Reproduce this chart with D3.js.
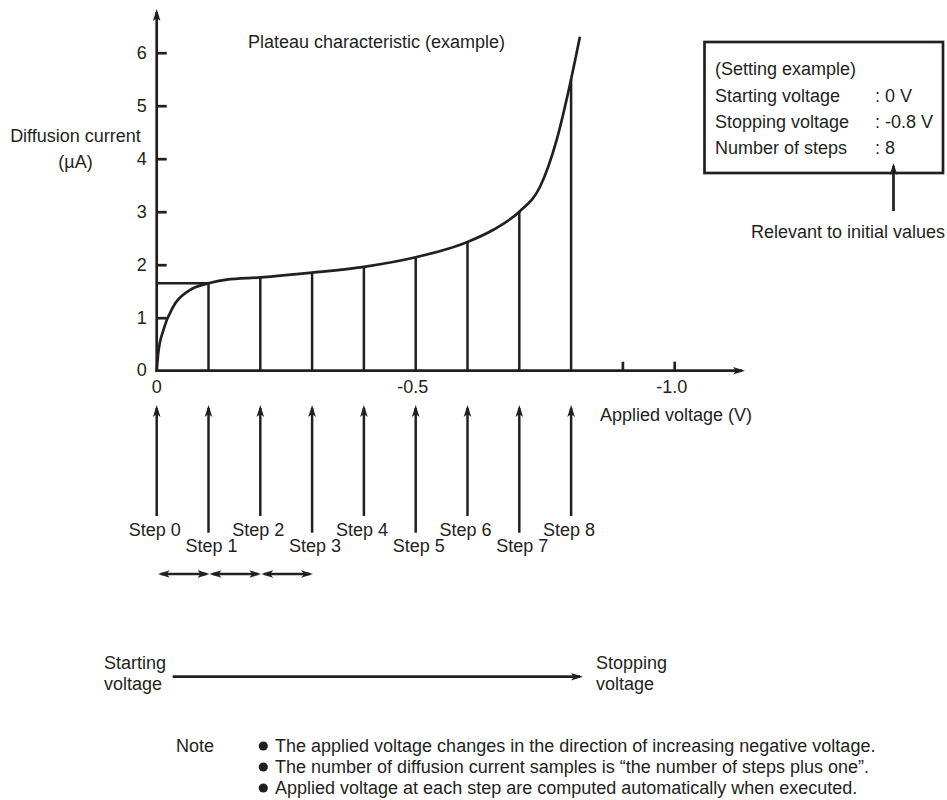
<!DOCTYPE html>
<html lang="en">
<head>
<meta charset="utf-8">
<title>Plateau characteristic</title>
<script src="https://d3js.org/d3.v7.min.js"></script>
<style>
  body { margin: 0; background: #fff; }
  svg { display: block; }
  text { font-family: "Liberation Sans", Arial, Helvetica, sans-serif; font-size: 18px; fill: #231f20; }
  .ln { stroke: #231f20; stroke-width: 2.7px; fill: none; }
</style>
</head>
<body>
<svg id="vis" width="947" height="800"></svg>
<script>
// ---- data ----
var yTicks = [0, 1, 2, 3, 4, 5, 6];
var xLabelValues = [0, -0.5, -1.0];
var xLabelText = ["0", "-0.5", "-1.0"];
var xTickMarks = [-0.9, -1.0];

// plateau curve (voltage V, current uA)
var curveV = [0, -0.003, -0.013, -0.032, -0.064, -0.1, -0.135, -0.2, -0.3, -0.4, -0.5, -0.6, -0.65, -0.7, -0.74, -0.772, -0.8, -0.817];
var curveI = [0, 0.33, 0.77, 1.21, 1.52, 1.65, 1.72, 1.76, 1.85, 1.96, 2.14, 2.43, 2.66, 3.0, 3.47, 4.35, 5.5, 6.3];

// sampled steps
var stepV = [0, -0.1, -0.2, -0.3, -0.4, -0.5, -0.6, -0.7, -0.8];
var stepI = [0, 1.65, 1.76, 1.85, 1.96, 2.14, 2.43, 3.0, 5.5];
var stepLabels = ["Step 0", "Step 1", "Step 2", "Step 3", "Step 4", "Step 5", "Step 6", "Step 7", "Step 8"];

var settingNames = ["Starting voltage", "Stopping voltage", "Number of steps"];
var settingValues = [": 0 V", ": -0.8 V", ": 8"];

var notes = [
  "The applied voltage changes in the direction of increasing negative voltage.",
  "The number of diffusion current samples is \u201cthe number of steps plus one\u201d.",
  "Applied voltage at each step are computed automatically when executed."
];

var svg = d3.select("#vis");

var x = d3.scaleLinear().domain([0, -1.0]).range([156.7, 674.7]);
var y = d3.scaleLinear().domain([0, 6]).range([370.7, 52.7]);

// arrow heads
var defs = svg.append("defs");
defs.append("marker")
    .attr("id", "head")
    .attr("markerUnits", "userSpaceOnUse")
    .attr("viewBox", "0 -5 12 10")
    .attr("markerWidth", 12).attr("markerHeight", 10)
    .attr("refX", 9).attr("refY", 0)
    .attr("orient", "auto-start-reverse")
  .append("path")
    .attr("d", "M0,-3.8L12,0L0,3.8L3,0Z")
    .attr("fill", "#231f20");

// y axis
var yAxis = d3.axisLeft(y)
    .tickValues(yTicks.slice(1))
    .tickFormat(d3.format("d"))
    .tickSize(-10).tickPadding(10).tickSizeOuter(0);
var gy = svg.append("g").attr("transform", "translate(" + x(0) + ",0)").call(yAxis);
gy.select(".domain").remove();
gy.selectAll(".tick line").attr("class", "ln");
gy.selectAll(".tick text").attr("font-size", null).attr("font-family", null).attr("fill", null);

svg.append("text").attr("x", x(0) - 10).attr("y", y(0)).attr("dy", "0.32em")
    .attr("text-anchor", "end").text("0");

svg.append("line").attr("class", "ln")
    .attr("x1", x(0)).attr("y1", y(0) + 1.3)
    .attr("x2", x(0)).attr("y2", 12)
    .attr("marker-end", "url(#head)");

// x axis
svg.append("line").attr("class", "ln")
    .attr("x1", x(0) - 1.3).attr("y1", y(0))
    .attr("x2", 742).attr("y2", y(0))
    .attr("marker-end", "url(#head)");

svg.selectAll(".xtick").data(xTickMarks).enter().append("line")
    .attr("class", "ln xtick")
    .attr("x1", function(d) { return x(d); }).attr("x2", function(d) { return x(d); })
    .attr("y1", y(0)).attr("y2", y(0) - 9);

svg.selectAll(".xlab").data(xLabelValues).enter().append("text")
    .attr("class", "xlab")
    .attr("x", function(d, i) { return x(d) - (i ? 3 : 0); })
    .attr("y", 393)
    .attr("text-anchor", "middle")
    .text(function(d, i) { return xLabelText[i]; });

svg.append("text").attr("x", 600).attr("y", 421).text("Applied voltage (V)");

svg.append("text").attr("x", 75.5).attr("y", 142).attr("text-anchor", "middle").text("Diffusion current");
svg.append("text").attr("x", 75.5).attr("y", 168).attr("text-anchor", "middle").text("(\u00b5A)");

svg.append("text").attr("x", 248).attr("y", 48).text("Plateau characteristic (example)");

// horizontal guide to step 1
svg.append("line").attr("class", "ln")
    .attr("x1", x(0)).attr("x2", x(stepV[1]))
    .attr("y1", y(stepI[1])).attr("y2", y(stepI[1]));

// step verticals
svg.selectAll(".stepline").data(stepV.slice(1)).enter().append("line")
    .attr("class", "ln stepline")
    .style("stroke-width", "2.5px")
    .attr("x1", function(d) { return x(d); }).attr("x2", function(d) { return x(d); })
    .attr("y1", y(0)).attr("y2", function(d, i) { return y(stepI[i + 1]); });

// curve
var pts = curveV.map(function(v, i) { return [v, curveI[i]]; });
var line = d3.line()
    .x(function(d) { return x(d[0]); })
    .y(function(d) { return y(d[1]); })
    .curve(d3.curveMonotoneX);
svg.append("path").attr("class", "ln").attr("d", line(pts));

// setting box
svg.append("rect").attr("class", "ln")
    .attr("x", 704.5).attr("y", 42).attr("width", 238.5).attr("height", 131);
svg.append("text").attr("x", 715).attr("y", 75).text("(Setting example)");
settingNames.forEach(function(s, i) {
  svg.append("text").attr("x", 715).attr("y", 101.5 + i * 26.3).text(s);
  svg.append("text").attr("x", 875).attr("y", 101.5 + i * 26.3).text(settingValues[i]);
});
svg.append("line").attr("class", "ln")
    .attr("x1", 893.5).attr("y1", 211).attr("x2", 893.5).attr("y2", 166)
    .attr("marker-end", "url(#head)");
svg.append("text").attr("x", 945).attr("y", 238).attr("text-anchor", "end").text("Relevant to initial values");

// step arrows below the axis
svg.selectAll(".steparrow").data(stepV).enter().append("line")
    .attr("class", "ln steparrow")
    .style("stroke-width", "2.5px")
    .attr("x1", function(d) { return x(d); }).attr("x2", function(d) { return x(d); })
    .attr("y1", function(d, i) { return i % 2 ? 532.7 : 516; })
    .attr("y2", 408)
    .attr("marker-end", "url(#head)");

svg.selectAll(".steplab").data(stepLabels).enter().append("text")
    .attr("class", "steplab")
    .attr("x", function(d, i) { return x(stepV[i]) + (i % 2 ? 3 : -2); })
    .attr("y", function(d, i) { return i % 2 ? 552 : 536; })
    .attr("text-anchor", "middle")
    .text(function(d) { return d; });

// step width arrows
svg.selectAll(".span").data(stepV.slice(0, 3)).enter().append("line")
    .attr("class", "ln span")
    .style("stroke-width", "2.5px")
    .attr("x1", function(d) { return x(d) + 4; })
    .attr("x2", function(d, i) { return x(stepV[i + 1]) - 2; })
    .attr("y1", 574).attr("y2", 574)
    .attr("marker-start", "url(#head)")
    .attr("marker-end", "url(#head)");

// start -> stop arrow
svg.append("text").attr("x", 104).attr("y", 669).text("Starting");
svg.append("text").attr("x", 104).attr("y", 689.5).text("voltage");
svg.append("line").attr("class", "ln")
    .attr("x1", 172.7).attr("y1", 676.7).attr("x2", 580).attr("y2", 676.7)
    .attr("marker-end", "url(#head)");
svg.append("text").attr("x", 596).attr("y", 669).text("Stopping");
svg.append("text").attr("x", 596).attr("y", 690).text("voltage");

// notes
svg.append("text").attr("x", 176).attr("y", 752).text("Note");
notes.forEach(function(n, i) {
  svg.append("circle").attr("cx", 263.3).attr("cy", 746 + i * 21).attr("r", 4.6).attr("fill", "#231f20");
  svg.append("text").attr("x", 275).attr("y", 752 + i * 21).text(n);
});
</script>
</body>
</html>
